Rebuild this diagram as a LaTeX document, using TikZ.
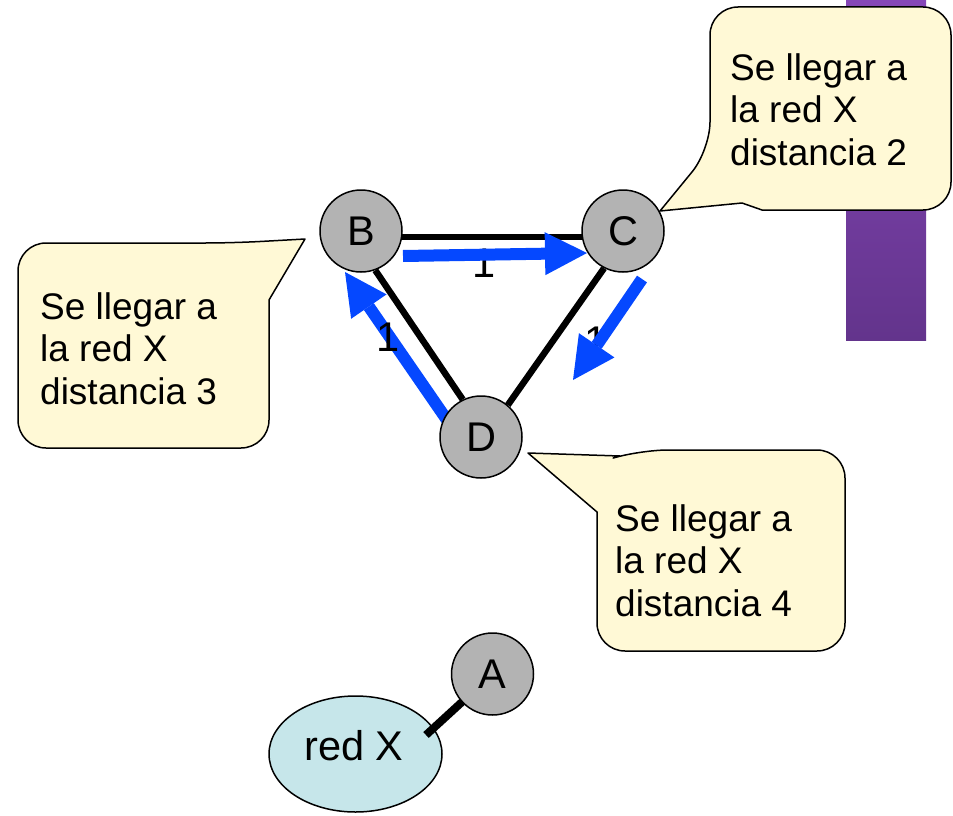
\documentclass[tikz,border=0pt]{standalone}
\usepackage{fontspec}
\setmainfont{Liberation Sans}
\usetikzlibrary{arrows.meta,shapes.geometric,calc}
\pgfdeclarelayer{bg}
\pgfsetlayers{bg,main}
\definecolor{callfill}{RGB}{255,249,214}
\definecolor{nodegray}{RGB}{179,179,179}
\definecolor{netblue}{RGB}{198,230,234}
\definecolor{flowblue}{RGB}{5,72,255}
\definecolor{purpletop}{RGB}{134,71,184}
\definecolor{purplebot}{RGB}{99,52,140}
\begin{document}
\begin{tikzpicture}[x=1pt,y=-1pt,
  txt/.style={font=\fontsize{37}{42.5}\selectfont, inner sep=0pt},
  bigtxt/.style={font=\fontsize{41.5}{48}\selectfont, inner sep=0pt},
  calltext/.style={txt, align=left, anchor=north west},
  router/.style={circle, draw=black, line width=1.5pt, fill=nodegray, minimum size=82pt, inner sep=0pt, font=\fontsize{41.5}{48}\selectfont},
  callout/.style={draw=black, line width=1.5pt, fill=callfill, line join=round},
  edge/.style={draw=black, line width=6.5pt},
  flow/.style={draw=flowblue, fill=flowblue, line width=12pt, -{Triangle[length=42pt 0 0, width=43pt 0 0, line width=0pt]}},
  ]
\useasboundingbox (0,0) rectangle (953,816);
\node[router] (B) at (361,231) {B};
\node[router] (C) at (623,231) {C};
\node[router] (D) at (481,437) {D};
\node[router] (A) at (492.5,674) {A};
\begin{pgfonlayer}{bg}
  \shade[top color=purpletop, bottom color=purplebot] (846,0) rectangle (926,340);
  % callouts
  \draw[callout] (660,211) -- (742,203) -- (762,210) [rounded corners=28pt] -- (951,210) -- (951,7) -- (710,7) -- (710,150) [sharp corners] -- cycle;
  \draw[callout] (305,239) -- (269,300) -- (269,340) [rounded corners=28pt] -- (269,448) -- (18,448) -- (18,243) -- (233,243) [sharp corners] -- cycle;
  \draw[callout] (528,453) -- (597,512) -- (597,560) [rounded corners=28pt] -- (597,651) -- (845,651) -- (845,450) -- (640,450) [sharp corners] -- (620,456) -- cycle;
  \node[calltext] (t2) at (730,53) {Se llegar a\\la red X\\distancia 2};
  \node[calltext] (t3) at (40,292) {Se llegar a\\la red X\\distancia 3};
  \node[calltext] (t4) at (615,504) {Se llegar a\\la red X\\distancia 4};
  % network X
  \node[ellipse, draw=black, line width=1.5pt, fill=netblue, minimum width=173pt, minimum height=116pt, inner sep=0pt] (X) at (355.5,754) {};
  \node[bigtxt] (Xt) at (354,746) {red X};
  \coordinate (xend) at (426,735);
  \draw[line width=8pt] (A.center) -- (xend);
  % edges
  \draw[edge] (B.-8) -- (C.188);
  \draw[edge] (B.-70) -- (D.116);
  \draw[edge] (C.-117) -- (D.50);
  % labels under the flows
  \node[bigtxt] (l1) at (484.3,263) {1};
  \node[bigtxt] (l3) at (596,341) {1};
  % flows
  \coordinate (f1s) at (403,256); \coordinate (f1e) at (587,253);
  \coordinate (f2s) at (642,279); \coordinate (f2e) at (573,380);
  \coordinate (f3s) at (447,420); \coordinate (f3e) at (345,272);
  \draw[flow] (f1s) -- (f1e);
  \draw[flow] (f2s) -- (f2e);
  \draw[flow] (f3s) -- (f3e);
  % label over the flow
  \node[bigtxt] (l2) at (388.3,337.5) {1};
\end{pgfonlayer}
\end{tikzpicture}
\end{document}
